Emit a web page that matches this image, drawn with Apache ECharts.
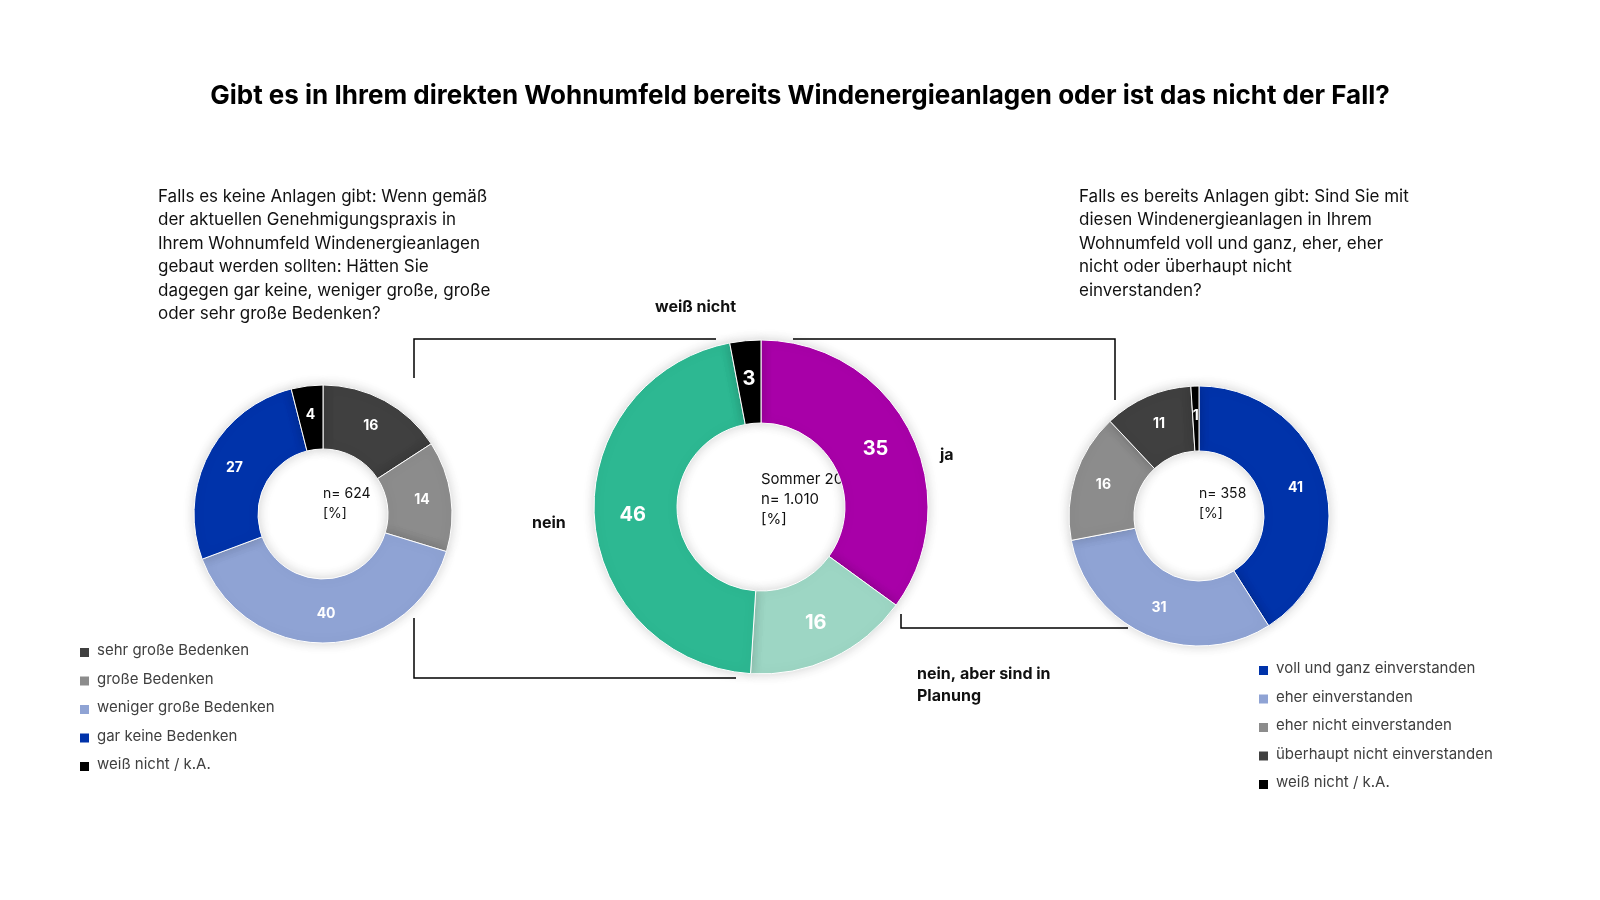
<!DOCTYPE html>
<html><head><meta charset="utf-8">
<script src="https://cdn.jsdelivr.net/npm/echarts@6/dist/echarts.min.js"></script>
<style>html,body{margin:0;background:#fff}#c{width:1600px;height:900px}</style>
</head><body><div id="c"></div>
<script>
var mainNames = ['ja', 'nein, aber sind in Planung', 'nein', 'weiß nicht'];
var mainValues = [35, 16, 46, 3];
var mainColors = ['#a800a8', '#9dd6c4', '#2db892', '#000000'];

var leftNames = ['sehr große Bedenken', 'große Bedenken', 'weniger große Bedenken', 'gar keine Bedenken', 'weiß nicht / k.A.'];
var leftValues = [16, 14, 40, 27, 4];
var leftColors = ['#404040', '#8c8c8c', '#8fa3d4', '#0033aa', '#000000'];

var rightNames = ['voll und ganz einverstanden', 'eher einverstanden', 'eher nicht einverstanden', 'überhaupt nicht einverstanden', 'weiß nicht / k.A. '];
var rightValues = [41, 31, 16, 11, 1];
var rightColors = ['#0033aa', '#8fa3d4', '#8c8c8c', '#404040', '#000000'];

var font = 'Inter, "Noto Sans", sans-serif';

function mk(names, values, colors) {
    return names.map(function (n, i) {
        return {name: n, value: values[i], itemStyle: {color: colors[i]}};
    });
}

function donut(id, center, radius, data, fs) {
    return {
        id: id,
        type: 'pie',
        center: center,
        radius: radius,
        startAngle: 90,
        clockwise: true,
        avoidLabelOverlap: false,
        itemStyle: {borderColor: '#fff', borderWidth: 1, shadowBlur: 12, shadowColor: 'rgba(0,0,0,0.18)'},
        label: {position: 'inside', color: '#fff', fontWeight: 'bold', fontSize: fs, fontFamily: font, formatter: '{c}'},
        labelLine: {show: false},
        emphasis: {disabled: true},
        data: data
    };
}

function legendText(x, y, names, colors) {
    var out = [];
    names.forEach(function (n, i) {
        out.push({type: 'rect', left: x, top: y + i * 28.5 + 5, shape: {width: 9, height: 9}, style: {fill: colors[i]}});
        out.push({type: 'text', left: x + 17, top: y + i * 28.5, style: {text: n.trim(), font: '15px ' + font, fill: '#404040'}});
    });
    return out;
}

function line(pts) {
    return {type: 'polyline', shape: {points: pts}, style: {stroke: '#000', lineWidth: 1.5, fill: null}, z: 0};
}

var q1 = 'Falls es keine Anlagen gibt: Wenn gemäß\nder aktuellen Genehmigungspraxis in\nIhrem Wohnumfeld Windenergieanlagen\ngebaut werden sollten: Hätten Sie\ndagegen gar keine, weniger große, große\noder sehr große Bedenken?';
var q2 = 'Falls es bereits Anlagen gibt: Sind Sie mit\ndiesen Windenergieanlagen in Ihrem\nWohnumfeld voll und ganz, eher, eher\nnicht oder überhaupt nicht\neinverstanden?';

var graphics = [
    line([[414, 378], [414, 339], [716, 339]]),
    line([[414, 618], [414, 678], [736, 678]]),
    line([[793, 339], [1115, 339], [1115, 400]]),
    line([[901, 614], [901, 628], [1128, 628]]),
    {type: 'text', left: 158, top: 185, style: {text: q1, font: '17px ' + font, fill: '#111', lineHeight: 23.5}},
    {type: 'text', left: 1079, top: 185, style: {text: q2, font: '17px ' + font, fill: '#111', lineHeight: 23.5}},
    {type: 'text', left: 655, top: 299, style: {text: 'weiß nicht', font: 'bold 16px ' + font, fill: '#111'}},
    {type: 'text', left: 940, top: 447, style: {text: 'ja', font: 'bold 16px ' + font, fill: '#111'}},
    {type: 'text', left: 532, top: 515, style: {text: 'nein', font: 'bold 16px ' + font, fill: '#111'}},
    {type: 'text', left: 917, top: 663, style: {text: 'nein, aber sind in\nPlanung', font: 'bold 16px ' + font, fill: '#111', align: 'center', lineHeight: 22}},
    {type: 'text', left: 'center', top: 469, x: 0, style: {text: '', fill: '#000'}},
    {type: 'text', left: 761, top: 469, style: {text: 'Sommer 2025\nn= 1.010\n[%]', font: '15px ' + font, fill: '#111', align: 'center', lineHeight: 20}},
    {type: 'text', left: 323, top: 484, style: {text: 'n= 624\n[%]', font: '14px ' + font, fill: '#111', align: 'center', lineHeight: 20}},
    {type: 'text', left: 1199, top: 484, style: {text: 'n= 358\n[%]', font: '14px ' + font, fill: '#111', align: 'center', lineHeight: 20}}
].concat(legendText(80, 643, leftNames, leftColors), legendText(1259, 661, rightNames, rightColors));

var option = {
    backgroundColor: '#fff',
    animation: false,
    title: {
        text: 'Gibt es in Ihrem direkten Wohnumfeld bereits Windenergieanlagen oder ist das nicht der Fall?',
        left: 'center', top: 78,
        textStyle: {fontFamily: font, fontSize: 26, fontWeight: 'bold', color: '#000'}
    },
    graphic: graphics,
    series: [
        donut('main', [761, 507], [84, 167], mk(mainNames, mainValues, mainColors), 20),
        donut('left', [323, 514], [65, 129], mk(leftNames, leftValues, leftColors), 14),
        donut('right', [1199, 516], [65, 130], mk(rightNames, rightValues, rightColors), 14)
    ]
};

var chart = echarts.init(document.getElementById('c'));
chart.setOption(option);
</script>
</body></html>
